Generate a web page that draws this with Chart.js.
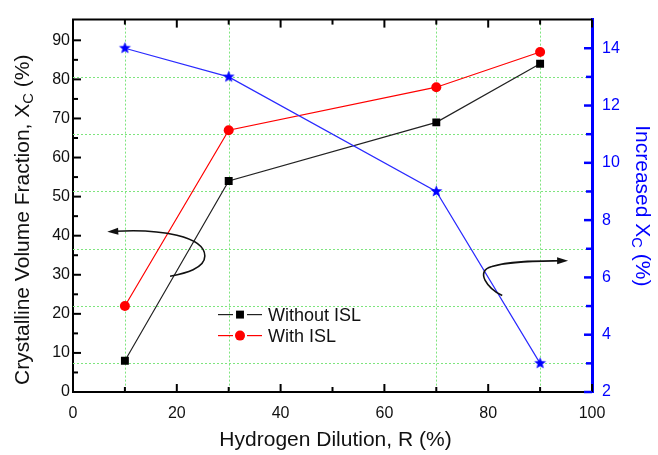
<!DOCTYPE html>
<html lang="en">
<head>
<meta charset="UTF-8" />
<title>Crystalline volume fraction vs hydrogen dilution</title>
<script src="https://cdn.jsdelivr.net/npm/chart.js"></script>
<style>
    body { margin: 0; background: #fff; }
    canvas { display: block; }
</style>
</head>
<body>
<canvas id="xcChart" width="658" height="455"></canvas>
<script>
// data
const dilution = [10, 30, 70, 90];
const withoutISL = [8, 54, 69, 84];
const withISL = [22, 67, 78, 87];
const increasedXc = [14, 13, 9, 3];

// ticks and grid
const xTicks = [0, 20, 40, 60, 80, 100];
const xMinor = [10, 30, 50, 70, 90];
const yTicks = [0, 10, 20, 30, 40, 50, 60, 70, 80, 90];
const yMinor = [5, 15, 25, 35, 45, 55, 65, 75, 85];
const y1Ticks = [2, 4, 6, 8, 10, 12, 14];
const y1Minor = [3, 5, 7, 9, 11, 13];
const xGrid = [10, 30, 70, 90];
const y1Grid = [3, 5, 7, 9, 11, 13];

const FONT = '"Liberation Sans", Arial, sans-serif';
const BLUE = '#0000ff';

function makeStar(r, color) {
    const c = document.createElement('canvas');
    const s = Math.ceil(r * 2 + 2);
    c.width = c.height = s;
    const g = c.getContext('2d');
    g.fillStyle = color;
    g.beginPath();
    for (let i = 0; i < 10; i++) {
        const rad = i % 2 ? r * 0.42 : r;
        const ang = -Math.PI / 2 + i * Math.PI / 5;
        g.lineTo(s / 2 + rad * Math.cos(ang), s / 2 + rad * Math.sin(ang));
    }
    g.closePath();
    g.fill();
    return c;
}
const star = makeStar(6.3, BLUE);

// curved arrows, in data units (x, left y)
const arrows = [
    [[18.7, 29.6], [21.6, 30.4], [25.4, 31.6], [25.4, 34.8], [25.4, 39.8], [16.8, 41.8], [6.6, 41.0]],
    [[82.7, 24.7], [80.0, 26.4], [77.3, 30.9], [80.7, 32.1], [84.2, 33.6], [90.0, 33.5], [95.4, 33.6]]
];

function line(ctx, x1, y1, x2, y2) {
    ctx.beginPath();
    ctx.moveTo(x1, y1);
    ctx.lineTo(x2, y2);
    ctx.stroke();
}

function drawTitle(ctx, parts, cx, cy, rot, size, color) {
    ctx.save();
    ctx.fillStyle = color;
    ctx.textBaseline = 'middle';
    ctx.textAlign = 'left';
    let w = 0;
    parts.forEach(p => {
        ctx.font = (p.sub ? size * 0.7 : size) + 'px ' + FONT;
        p.w = ctx.measureText(p.t).width;
        w += p.w;
    });
    ctx.translate(cx, cy);
    ctx.rotate(rot);
    let x = -w / 2;
    parts.forEach(p => {
        ctx.font = (p.sub ? size * 0.7 : size) + 'px ' + FONT;
        ctx.fillText(p.t, x, p.sub ? size * 0.3 : 0);
        x += p.w;
    });
    ctx.restore();
}

const decorations = {
    id: 'decorations',
    beforeDatasetsDraw(chart) {
        const {ctx, chartArea: a, scales: {x, y1}} = chart;
        ctx.save();
        ctx.strokeStyle = '#7ee57e';
        ctx.lineWidth = 1;
        ctx.setLineDash([2, 2]);
        xGrid.forEach(v => {
            const px = Math.round(x.getPixelForValue(v)) + 0.5;
            line(ctx, px, a.top, px, a.bottom);
        });
        y1Grid.forEach(v => {
            const py = Math.round(y1.getPixelForValue(v)) + 0.5;
            line(ctx, a.left, py, a.right, py);
        });
        ctx.restore();
    },
    afterDraw(chart) {
        const {ctx, chartArea: a, scales: {x, y, y1}} = chart;
        ctx.save();
        // top frame
        ctx.strokeStyle = '#000';
        ctx.lineWidth = 2;
        line(ctx, a.left - 1, a.top, a.right, a.top);
        // inward tick marks
        const tick = (vals, len) => {
            vals.forEach(v => {
                const px = x.getPixelForValue(v);
                line(ctx, px, a.bottom, px, a.bottom - len);
                line(ctx, px, a.top, px, a.top + len);
            });
        };
        tick(xTicks, 8);
        tick(xMinor, 5);
        yTicks.forEach(v => { const py = y.getPixelForValue(v); line(ctx, a.left, py, a.left + 8, py); });
        yMinor.forEach(v => { const py = y.getPixelForValue(v); line(ctx, a.left, py, a.left + 5, py); });
        ctx.strokeStyle = BLUE;
        ctx.lineWidth = 2.5;
        y1Ticks.forEach(v => { const py = y1.getPixelForValue(v); line(ctx, a.right, py, a.right - 8, py); });
        y1Minor.forEach(v => { const py = y1.getPixelForValue(v); line(ctx, a.right, py, a.right - 6, py); });

        // axis titles
        drawTitle(ctx, [{t: 'Crystalline Volume Fraction, X'}, {t: 'C', sub: true}, {t: ' (%)'}],
            a.left - 50, (a.top + a.bottom) / 2 + 14, -Math.PI / 2, 21, '#111');
        drawTitle(ctx, [{t: 'Hydrogen Dilution, R (%)'}],
            (a.left + a.right) / 2 + 3, a.bottom + 48, 0, 21, '#111');
        drawTitle(ctx, [{t: 'Increased X'}, {t: 'C', sub: true}, {t: ' (%)'}],
            a.right + 50, (a.top + a.bottom) / 2, Math.PI / 2, 21, BLUE);

        // legend (two ISL series)
        ctx.font = '18px ' + FONT;
        ctx.textBaseline = 'middle';
        ctx.textAlign = 'left';
        const lx = a.left + 145, ly = a.top + 295;
        chart.data.datasets.filter(d => d.inLegend).forEach((d, i) => {
            const yy = ly + i * 21;
            ctx.strokeStyle = d.borderColor;
            ctx.lineWidth = 1.2;
            line(ctx, lx, yy, lx + 15, yy);
            line(ctx, lx + 29, yy, lx + 44, yy);
            ctx.fillStyle = d.pointBackgroundColor;
            Chart.helpers.drawPoint(ctx, {pointStyle: d.pointStyle, radius: d.pointRadius, rotation: 0, borderWidth: 0}, lx + 22, yy);
            ctx.fillStyle = '#111';
            ctx.fillText(d.label, lx + 50, yy + 1);
        });

        // curved arrows
        ctx.strokeStyle = '#111';
        ctx.fillStyle = '#111';
        ctx.lineWidth = 1.6;
        arrows.forEach(pts => {
            const p = pts.map(q => [x.getPixelForValue(q[0]), y.getPixelForValue(q[1])]);
            const tip = p[6], from = p[5];
            const ang = Math.atan2(tip[1] - from[1], tip[0] - from[0]);
            const end = [tip[0] - 8 * Math.cos(ang), tip[1] - 8 * Math.sin(ang)];
            ctx.beginPath();
            ctx.moveTo(p[0][0], p[0][1]);
            ctx.bezierCurveTo(p[1][0], p[1][1], p[2][0], p[2][1], p[3][0], p[3][1]);
            ctx.bezierCurveTo(p[4][0], p[4][1], p[5][0], p[5][1], end[0], end[1]);
            ctx.stroke();
            ctx.beginPath();
            ctx.moveTo(tip[0], tip[1]);
            ctx.lineTo(tip[0] - 11 * Math.cos(ang) + 3.5 * Math.sin(ang), tip[1] - 11 * Math.sin(ang) - 3.5 * Math.cos(ang));
            ctx.lineTo(tip[0] - 11 * Math.cos(ang) - 3.5 * Math.sin(ang), tip[1] - 11 * Math.sin(ang) + 3.5 * Math.cos(ang));
            ctx.closePath();
            ctx.fill();
        });
        ctx.restore();
    }
};

const toPoints = vals => vals.map((v, i) => ({x: dilution[i], y: v}));

new Chart(document.getElementById('xcChart'), {
    type: 'line',
    data: {
        datasets: [
            {
                label: 'Increased Xc',
                data: toPoints(increasedXc),
                yAxisID: 'y1',
                borderColor: '#2a2aff',
                borderWidth: 1.2,
                pointStyle: star,
                pointRadius: 6,
                pointBackgroundColor: BLUE,
                tension: 0
            },
            {
                label: 'Without ISL',
                inLegend: true,
                data: toPoints(withoutISL),
                yAxisID: 'y',
                borderColor: '#222',
                borderWidth: 1.2,
                pointStyle: 'rect',
                pointRadius: 5.6,
                pointBackgroundColor: '#000',
                pointBorderWidth: 0,
                tension: 0
            },
            {
                label: 'With ISL',
                inLegend: true,
                data: toPoints(withISL),
                yAxisID: 'y',
                borderColor: '#ff0000',
                borderWidth: 1.2,
                pointStyle: 'circle',
                pointRadius: 5,
                pointBackgroundColor: '#ff0000',
                pointBorderWidth: 0,
                tension: 0
            }
        ]
    },
    options: {
        responsive: false,
        animation: false,
        layout: {padding: {top: 7, left: 0, right: 0, bottom: 0}},
        plugins: {legend: {display: false}, tooltip: {enabled: false}},
        scales: {
            x: {
                type: 'linear',
                min: 0,
                max: 100,
                afterBuildTicks: s => { s.ticks = xTicks.map(v => ({value: v})); },
                afterFit: s => { s.height = 63; },
                grid: {display: false, drawTicks: false},
                border: {color: '#000', width: 2},
                ticks: {padding: 12, color: '#111', font: {family: FONT, size: 16}, maxRotation: 0}
            },
            y: {
                position: 'left',
                min: 0,
                max: 95.3,
                afterBuildTicks: s => { s.ticks = yTicks.map(v => ({value: v})); },
                afterFit: s => { s.width = 73; },
                grid: {display: false, drawTicks: false},
                border: {color: '#000', width: 2},
                ticks: {padding: 3, color: '#111', font: {family: FONT, size: 16}}
            },
            y1: {
                position: 'right',
                min: 2,
                max: 15,
                afterBuildTicks: s => { s.ticks = y1Ticks.map(v => ({value: v})); },
                afterFit: s => { s.width = 66; },
                grid: {display: false, drawTicks: false},
                border: {color: BLUE, width: 3},
                ticks: {padding: 10, color: BLUE, font: {family: FONT, size: 16}}
            }
        }
    },
    plugins: [decorations]
});
</script>
</body>
</html>
